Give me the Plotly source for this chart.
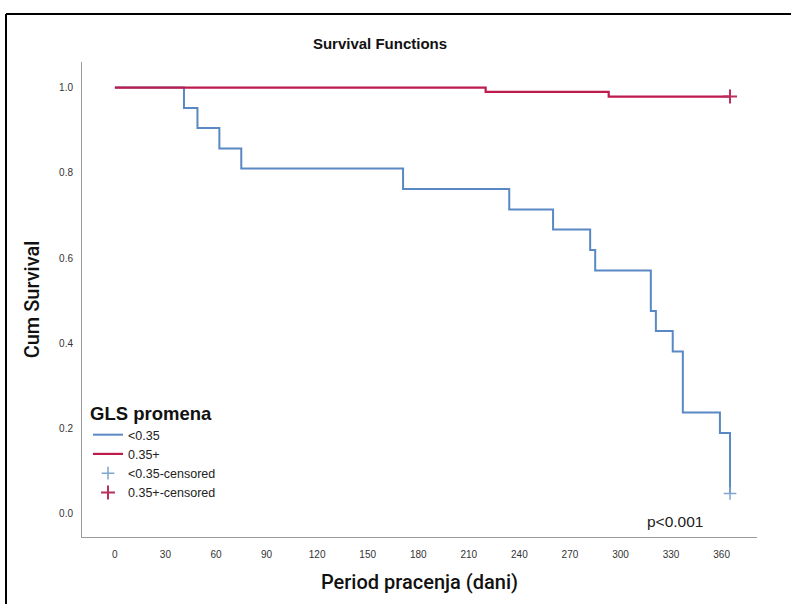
import plotly.graph_objects as go

# ---- data ----
blue_days = [0, 41, 49, 62, 75, 171, 234, 260, 282, 285, 318, 321, 331, 337, 359, 365]
blue_surv = [1.0, 0.952, 0.905, 0.857, 0.810, 0.762, 0.714, 0.667, 0.619, 0.571,
             0.476, 0.429, 0.381, 0.238, 0.190, 0.048]
red_days = [0, 220, 293, 365]
red_surv = [1.0, 0.990, 0.979, 0.979]
blue_cens_days = [365]
blue_cens_surv = [0.048]
red_cens_days = [365]
red_cens_surv = [0.979]
x_ticks = [0, 30, 60, 90, 120, 150, 180, 210, 240, 270, 300, 330, 360]
y_ticks = [0.0, 0.2, 0.4, 0.6, 0.8, 1.0]

BLUE = "#5A88C4"
RED = "#BE1A4E"
BLUE_C = "#7FA6CE"
RED_C = "#B8305E"
FONT = "Liberation Sans"
TITLE_FONT = "Roboto"

fig = go.Figure()
fig.add_trace(go.Scatter(x=blue_days, y=blue_surv, mode="lines", line_shape="hv",
                         line=dict(color=BLUE, width=2), name="<0.35"))
fig.add_trace(go.Scatter(x=red_days, y=red_surv, mode="lines", line_shape="hv",
                         line=dict(color=RED, width=2.2), name="0.35+"))
fig.add_trace(go.Scatter(x=blue_cens_days, y=blue_cens_surv, mode="markers",
                         marker=dict(symbol="cross-thin", size=9,
                                     line=dict(color=BLUE_C, width=1.5)),
                         name="<0.35-censored"))
fig.add_trace(go.Scatter(x=red_cens_days, y=red_cens_surv, mode="markers",
                         marker=dict(symbol="cross-thin", size=10,
                                     line=dict(color=RED_C, width=2)),
                         name="0.35+-censored"))

# plot area in pixels: left 82, right 757, top 62, bottom 537
L, R, T, B = 82, 757, 62, 537
W, H = 791, 604
def px(x):
    return (x - L) / (R - L)
def py(y):
    return (B - y) / (B - T)

fig.update_layout(
    width=W, height=H,
    margin=dict(l=L, r=W - R, t=T, b=H - B),
    paper_bgcolor="white", plot_bgcolor="white",
    font=dict(family=FONT, color="#222222"),
    title=dict(text="<b>Survival Functions</b>", x=px(380), xanchor="center", xref="paper",
               y=1 - 44 / H, yanchor="middle",
               font=dict(size=15, family=FONT, color="#111111")),
    xaxis=dict(range=[-19.5, 381], tickvals=x_ticks, ticktext=[str(v) for v in x_ticks],
               showgrid=False, zeroline=False, showline=True, linecolor="#9A9A9A",
               linewidth=1, ticks="", ticklabelstandoff=8,
               tickfont=dict(size=10, color="#333333"),
               title=dict(text="Period pracenja (dani)", standoff=15,
                          font=dict(size=20, family=TITLE_FONT, weight=500,
                                    color="#111111"))),
    yaxis=dict(range=[-0.054, 1.06], tickvals=y_ticks,
               ticktext=[f"{v:.1f}" for v in y_ticks],
               showgrid=False, zeroline=False, showline=True, linecolor="#9A9A9A",
               linewidth=1, ticks="", ticklabelstandoff=6,
               tickfont=dict(size=10, color="#333333"),
               title=dict(text="Cum Survival", standoff=14,
                          font=dict(size=20, family=TITLE_FONT, weight=500,
                                    color="#111111"))),
    legend=dict(x=px(88), y=py(396), xanchor="left", yanchor="top",
                bgcolor="rgba(0,0,0,0)", tracegroupgap=0, itemwidth=30,
                font=dict(size=12.5, color="#222222"),
                title=dict(text="<b>GLS promena</b>", font=dict(size=18.5, color="#111111"))),
    showlegend=True,
)

fig.add_annotation(text="p<0.001", xref="paper", yref="paper", x=px(675), y=py(521),
                   xanchor="center", yanchor="middle", showarrow=False,
                   font=dict(size=15.5, color="#222222"))

# outer frame (top and left edges visible)
fig.add_shape(type="line", xref="paper", yref="paper", x0=px(6), x1=px(800),
              y0=py(14), y1=py(14), line=dict(color="black", width=2))
fig.add_shape(type="line", xref="paper", yref="paper", x0=px(6), x1=px(6),
              y0=py(14), y1=py(610), line=dict(color="black", width=2))

fig.write_html("out.html")
